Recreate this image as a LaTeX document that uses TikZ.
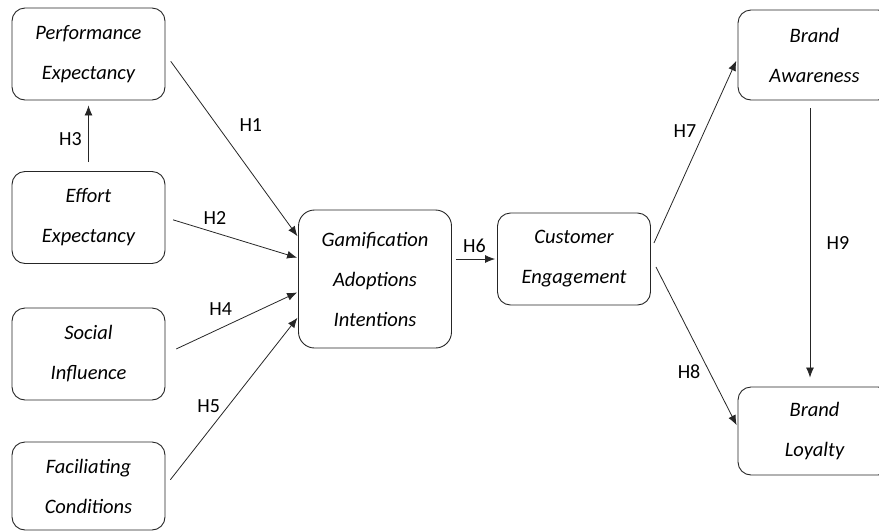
\documentclass[tikz,border=0pt]{standalone}
\usepackage{fontspec}
\setmainfont{Carlito}
\usetikzlibrary{arrows.meta,positioning}

\begin{document}
\begin{tikzpicture}[>={Latex[length=10pt,width=8pt]},on grid,auto,
  every node/.style={font=\fontsize{20}{40}\selectfont}]
  \tikzstyle{construct}=[rectangle,rounded corners=13pt,draw=black!85,line width=0.9pt,
  			 minimum width=153pt,minimum height=92pt,align=center,
  			 font=\fontsize{20.5}{40}\selectfont\itshape]
  \tikzstyle{hyp}=[draw=black!85,line width=0.8pt,shorten >=1pt]

  \useasboundingbox (-88.5pt,54pt) rectangle (790.5pt,-477pt);

  \node[construct] (pe) {Performance\\Expectancy};
  \node[construct] (ee) [below=163.5pt of pe] {Effort\\Expectancy};
  \node[construct] (si) [below=136.5pt of ee] {Social\\Influence};
  \node[construct,minimum height=88pt] (fc) [below=132pt of si] {Faciliating\\Conditions};
  \node[construct,minimum height=138pt,rounded corners=16pt] (gai)
       [below right=61.5pt and 286.5pt of ee] {Gamification\\Adoptions\\Intentions};
  \node[construct] (ce) [above right=20pt and 199pt of gai] {Customer\\Engagement};
  \node[construct,minimum height=90pt] (ba) [above right=204pt and 240.5pt of ce] {Brand\\Awareness};
  \node[construct,minimum height=88pt] (bl) [below=376pt of ba] {Brand\\Loyalty};

  % predictors of adoption intention
  \path[->] (pe.east) edge [hyp,shorten <=9pt] node[pos=.47,xshift=8pt,yshift=5pt] {H1} ([yshift=42pt]gai.west);
  \path[->] (ee.east) edge [hyp,shorten <=8pt] node[pos=.26] {H2} ([yshift=21pt]gai.west);
  \path[->] (ee.north) edge [hyp,shorten <=9pt,shorten >=5pt] node[pos=.45,left=3pt] {H3} (pe.south);
  \path[->] (si.east) edge [hyp,shorten <=12pt] node[pos=.53,yshift=2pt] {H4} ([yshift=-13pt]gai.west);
  \path[->] (fc.east) edge [hyp,shorten <=8pt] node[pos=.41,xshift=4pt] {H5} ([yshift=-38pt]gai.west);

  % engagement and outcomes
  \path[->] (gai.east |- ce.west) edge [hyp,shorten <=4pt,shorten >=2pt] node[above=3pt] {H6} (ce.west);
  \path[->] ([xshift=3pt,yshift=16pt]ce.east) edge [hyp,shorten >=3pt] node[pos=.55] {H7} ([yshift=-3pt]ba.west);
  \path[->] ([xshift=5pt,yshift=-8pt]ce.east) edge [hyp,shorten >=2pt] node[pos=.59,swap] {H8} ([yshift=4pt]bl.west);
  \path[->] ([xshift=-4.5pt]ba.south) edge [hyp,shorten <=8pt,shorten >=9pt] node[pos=.5,right=13pt] {H9} ([xshift=-4.5pt]bl.north);
\end{tikzpicture}
\end{document}
